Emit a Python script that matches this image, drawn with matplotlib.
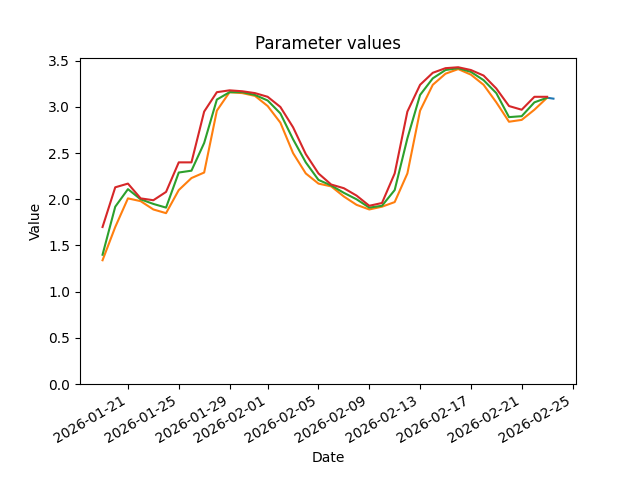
"""Parameter values over time: three daily estimates plus the latest reading."""

import matplotlib

matplotlib.use("Agg")

import matplotlib.pyplot as plt
import pandas as pd

# ---------------------------------------------------------------------------
# Data
# ---------------------------------------------------------------------------

dates = pd.date_range("2026-01-19", "2026-02-23", freq="D")

latest_dates = pd.to_datetime(["2026-02-23 00:00", "2026-02-23 12:00"])
latest_values = [3.10, 3.09]

lagging_values = [
    1.34, 1.70, 2.01, 1.98, 1.89, 1.85, 2.10, 2.23, 2.29, 2.96,
    3.16, 3.15, 3.12, 3.01, 2.83, 2.50, 2.28, 2.17, 2.14, 2.03,
    1.94, 1.89, 1.92, 1.97, 2.28, 2.96, 3.24, 3.36, 3.41, 3.35,
    3.24, 3.05, 2.84, 2.86, 2.97, 3.10,
]
middle_values = [
    1.40, 1.92, 2.11, 2.00, 1.95, 1.91, 2.29, 2.31, 2.61, 3.08,
    3.16, 3.16, 3.13, 3.07, 2.93, 2.65, 2.40, 2.21, 2.15, 2.07,
    2.00, 1.91, 1.93, 2.10, 2.66, 3.13, 3.31, 3.40, 3.42, 3.38,
    3.29, 3.15, 2.89, 2.90, 3.05, 3.10,
]
leading_values = [
    1.70, 2.13, 2.17, 2.01, 1.99, 2.08, 2.40, 2.40, 2.95, 3.16,
    3.18, 3.17, 3.15, 3.11, 3.00, 2.78, 2.49, 2.28, 2.16, 2.12,
    2.04, 1.93, 1.96, 2.28, 2.95, 3.24, 3.37, 3.42, 3.43, 3.40,
    3.34, 3.20, 3.01, 2.97, 3.11, 3.11,
]


def main() -> None:
    fig, ax = plt.subplots(figsize=(6.4, 4.8), dpi=100)

    ax.plot(latest_dates, latest_values, color="C0")
    ax.plot(dates, lagging_values, color="C1")
    ax.plot(dates, middle_values, color="C2")
    ax.plot(dates, leading_values, color="C3")

    ax.set_ylim(bottom=0)
    ax.set_title("Parameter values")
    ax.set_xlabel("Date")
    ax.set_ylabel("Value")
    fig.autofmt_xdate()

    fig.savefig("out.png", dpi=100)
    plt.close(fig)


if __name__ == "__main__":
    main()
